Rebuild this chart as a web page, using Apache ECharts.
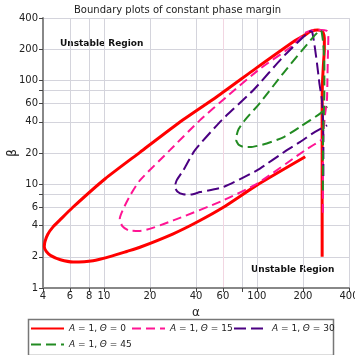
<!DOCTYPE html>
<html>
<head>
<meta charset="utf-8">
<script src="https://cdn.jsdelivr.net/npm/echarts@6/dist/echarts.min.js"></script>
<style>html,body{margin:0;padding:0;background:#fff}#c{width:355px;height:355px}</style>
</head>
<body>
<div id="c"></div>
<script>
// ---- data (alpha, beta) ----
const thetaValues = [0, 15, 30, 45];
const seriesColors = ['#ff0000', '#ff1493', '#4b0082', '#228b22'];

const redAlpha = [267,267,267,267,268,272,276,276,271,262,250,238,222,207,178,100,55,30.5,17.2,10.2,6.27,5.13,4.64,4.3,4.12,4.08,4.2,4.5,5.2,6.3,8.5,11.5,14.1,17.2,28.4,40.4,60.4,100,207];
const redBeta  = [2,6,20,50,90,140,200,255,290,303,307,305,295,275,243,133,70,38.5,20.3,11.3,6.0,4.48,3.86,3.3,2.8,2.5,2.25,2.05,1.87,1.78,1.83,2.05,2.25,2.47,3.33,4.3,6.0,9.8,18.4];

const pinkAlpha = [270,270,270,272,278,287,289,291,293,292,285,265,245,224,202,174,105,63.6,42.5,27,17.2,15.0,13.4,12.7,13.2,14.5,17.2,28.4,60.4,100,207,268];
const pinkBeta  = [5.3,9,18,30,45,65,100,170,250,290,302,307,307,302,282,220,130,69.8,41.5,21.3,10.9,8.0,5.8,4.65,3.95,3.6,3.55,4.48,7.0,10.1,21.3,27];

const purpleAlpha = [272,272,270,266,256,247,238,230,224,213,149,95,59,39.4,33,29.9,29.1,30.5,33,36.5,42.5,60.4,100,157,192,240,288];
const purpleBeta  = [12,25,45,65,95,147,220,292,298,284,170,81,41.5,21.3,13.6,10.9,9.4,8.4,8.0,7.94,8.4,9.4,13.6,21.3,25.6,32,37];

const greenAlpha = [270,270,271,274,276,276,272,265,260,252,235,149,105,84,76,73.5,73.3,76,81.7,90,116,150,192,260,288];
const greenBeta  = [8.7,15,30,50,80,140,220,295,303,295,265,118,61,42,34,29,26.6,24,22.9,22.8,24.7,28.5,35.8,48.2,56];

const xTicks = [4,6,8,10,20,40,60,80,100,200,400];
const xLabels = [4,6,8,10,20,40,60,100,200,400];
const yTicks = [1,2,4,6,8,10,20,40,60,80,100,200,400];
const yLabels = [1,2,4,6,10,20,40,60,100,200,400];

const titleText = 'Boundary plots of constant phase margin';
const regionText = 'Unstable Region';

// ---- build ----
function pairs(a, b) { return a.map((v, i) => [v, b[i]]); }
const curveData = [pairs(redAlpha, redBeta), pairs(pinkAlpha, pinkBeta), pairs(purpleAlpha, purpleBeta), pairs(greenAlpha, greenBeta)];
const names = thetaValues.map(t => 'A = 1, Θ = ' + t);
const lineWidths = [3, 2, 2, 2];
const dashTypes = ['solid', [9, 5], [12, 5], [10, 5]];

const gridGray = '#d4d4dc';
const xGridColors = xTicks.map(v => v === 60 ? '#f2d6e2' : gridGray);

const FONT = 'DejaVu Sans';

const legendPos = [[30, 324], [131, 324], [233, 324], [30, 340]];

const chart = echarts.init(document.getElementById('c'), null, {renderer: 'canvas'});
chart.setOption({
  animation: false,
  backgroundColor: '#fff',
  title: {
    text: titleText, left: 'center', top: 0,
    textStyle: {fontFamily: FONT, fontSize: 10, fontWeight: 'normal', color: '#222'}
  },
  grid: {left: 43, right: 6, top: 18, bottom: 67, containLabel: false, outerBoundsMode: 'none'},
  xAxis: {
    type: 'log', logBase: 10, min: 4, max: 400,
    name: 'α', nameLocation: 'middle', nameGap: 19, nameMoveOverlap: false,
    nameTextStyle: {fontFamily: FONT, fontSize: 12, color: '#222'},
    axisLine: {show: true, lineStyle: {color: '#888', width: 2}},
    axisTick: {show: true, customValues: xTicks, length: 4, lineStyle: {color: '#444', width: 1}},
    axisLabel: {customValues: xLabels, fontFamily: FONT, fontSize: 10, color: '#222', margin: 3},
    splitLine: {show: true, lineStyle: {color: xGridColors, width: 1}},
    minorTick: {show: false}, minorSplitLine: {show: false}
  },
  yAxis: {
    type: 'log', logBase: 10, min: 1, max: 400,
    name: 'β', nameLocation: 'middle', nameGap: 24, nameRotate: 90, nameMoveOverlap: false,
    nameTextStyle: {fontFamily: FONT, fontSize: 12, color: '#222'},
    axisLine: {show: true, lineStyle: {color: '#888', width: 2}},
    axisTick: {show: true, customValues: yTicks, length: 4, lineStyle: {color: '#444', width: 1}},
    axisLabel: {customValues: yLabels, fontFamily: FONT, fontSize: 10, color: '#222', margin: 5},
    splitLine: {show: true, lineStyle: {color: gridGray, width: 1}},
    minorTick: {show: false}, minorSplitLine: {show: false}
  },
  legend: names.map((n, i) => ({
    data: [n], left: legendPos[i][0], top: legendPos[i][1], padding: 0,
    itemWidth: 33, itemHeight: 10, itemGap: 0, selectedMode: false,
    itemStyle: {color: 'rgba(0,0,0,0)', borderWidth: 0, opacity: 0},
    formatter: name => name.replace('A', '{i|A}').replace('Θ', '{i|Θ}'),
    textStyle: {fontFamily: FONT, fontSize: 9, color: '#222', rich: {i: {fontStyle: 'italic', fontFamily: FONT, fontSize: 9, color: '#222'}}}
  })),
  graphic: [
    {type: 'rect', left: 26, top: 317, shape: {width: 305, height: 36}, style: {fill: 'none', stroke: '#777', lineWidth: 1.5}, silent: true},
    {type: 'text', left: 60, top: 39, style: {text: regionText, font: 'bold 9px "DejaVu Sans"', fill: '#111'}, silent: true},
    {type: 'text', left: 251, top: 265, style: {text: regionText, font: 'bold 9px "DejaVu Sans"', fill: '#111'}, silent: true}
  ],
  series: curveData.map((d, i) => ({
    name: names[i], type: 'line', data: d, showSymbol: false, symbol: 'none',
    smooth: 0.2, z: 2 + i,
    lineStyle: {color: seriesColors[i], width: lineWidths[i], type: dashTypes[i]},
    itemStyle: {color: seriesColors[i]}
  }))
});
</script>
</body>
</html>
